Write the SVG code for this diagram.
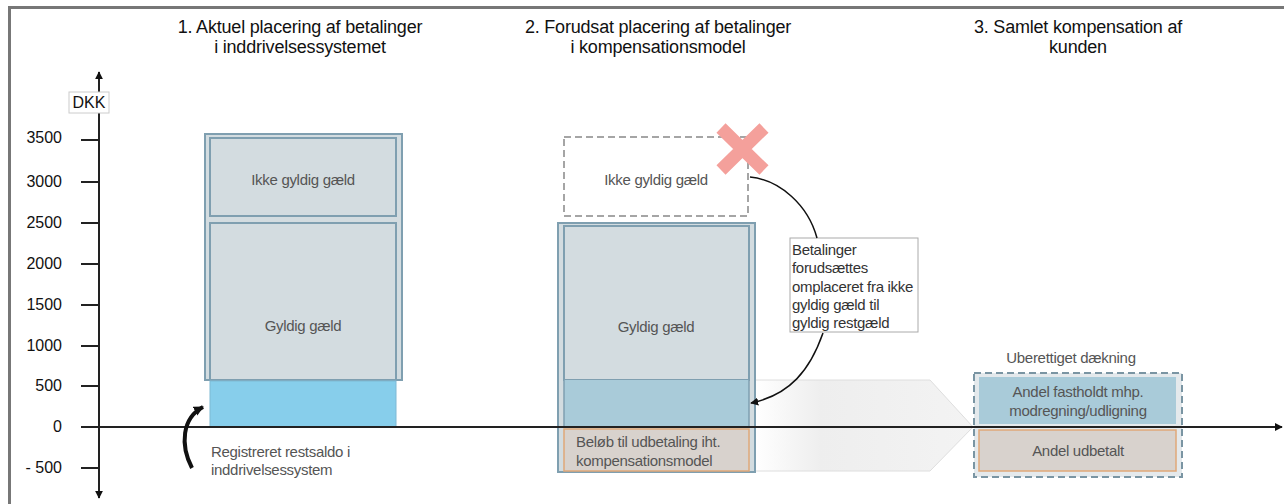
<svg xmlns="http://www.w3.org/2000/svg" width="1284" height="504" viewBox="0 0 1284 504">
<style>
.title{font-family:"Liberation Sans",Arial,sans-serif;font-size:18px;fill:#111;text-anchor:middle;letter-spacing:-0.2px}
.ax{font-family:"Liberation Sans",Arial,sans-serif;font-size:16px;fill:#111;text-anchor:end}
.lbl{font-family:"Liberation Sans",Arial,sans-serif;font-size:15px;fill:#555;letter-spacing:-0.3px}
.c{text-anchor:middle}
.tick{stroke:#222;stroke-width:2}
.gray{fill:#d3dce0;stroke:#7f9fb0;stroke-width:2}
.blue{fill:#a9cbd9}
.tan{fill:#d8d2cd;stroke:#e0a878;stroke-width:1.5}
.conn{fill:none;stroke:#111;stroke-width:1.5}
</style>
<defs>
<marker id="ah" viewBox="0 0 10 10" refX="9" refY="5" markerWidth="8" markerHeight="8" orient="auto" markerUnits="userSpaceOnUse"><path d="M0,0 L10,5 L0,10 z" fill="#111"/></marker>
<marker id="ahb" viewBox="0 0 10 10" refX="9" refY="5" markerWidth="10" markerHeight="10" orient="auto" markerUnits="userSpaceOnUse"><path d="M0,0 L10,5 L0,10 z" fill="#111"/></marker>
<linearGradient id="g" x1="0" y1="0" x2="1" y2="0">
<stop offset="0" stop-color="#ffffff"/>
<stop offset="0.3" stop-color="#eeeeee"/>
<stop offset="1" stop-color="#f3f3f3"/>
</linearGradient>
</defs>
<rect x="0" y="0" width="1284" height="504" fill="#fff"/>
<rect id="frame" x="9.5" y="7.5" width="1290" height="510" fill="none" stroke="#777" stroke-width="3"/>

<g id="titles">
<text class="title" x="300" y="33">1. Aktuel placering af betalinger</text>
<text class="title" x="300" y="53">i inddrivelsessystemet</text>
<text class="title" x="658" y="33">2. Forudsat placering af betalinger</text>
<text class="title" x="658" y="53">i kompensationsmodel</text>
<text class="title" x="1078" y="33">3. Samlet kompensation af</text>
<text class="title" x="1078" y="53">kunden</text>
</g>

<g id="arrow2">
<path d="M755,380 L930,380 L973,427 L930,471 L755,471 Z" fill="url(#g)" stroke="#dedede" stroke-width="1"/>
</g>

<g id="bar1">
<rect class="gray" x="205" y="134" width="197" height="246"/>
<rect class="gray" x="210" y="138" width="186" height="78" stroke-width="1.5"/>
<rect class="gray" x="210" y="223" width="186" height="157" stroke-width="1.5"/>
<rect x="210" y="381" width="186" height="46" fill="#87ceeb" stroke="#7fb9d4" stroke-width="1"/>
<text class="lbl c" x="303" y="185">Ikke gyldig gæld</text>
<text class="lbl c" x="303" y="331">Gyldig gæld</text>
</g>

<g id="bar2-invalid">
<rect x="564" y="137" width="184" height="79" fill="#fff" stroke="#888" stroke-width="1.5" stroke-dasharray="7,4"/>
<text class="lbl c" x="656" y="185">Ikke gyldig gæld</text>
<path d="M721,128 L764,170 M764,128 L721,170" stroke="#f4a09b" stroke-width="13"/>
</g>

<g id="bar2">
<rect class="gray" x="558" y="223" width="197" height="249"/>
<rect class="gray" x="564" y="226" width="185" height="154" stroke-width="1.5"/>
<rect class="blue" x="564" y="380" width="185" height="47"/>
<line x1="749" y1="226" x2="749" y2="427" stroke="#7f9fb0" stroke-width="1.5"/>
<line x1="564" y1="226" x2="564" y2="427" stroke="#7f9fb0" stroke-width="1.5"/>
<rect class="tan" x="564" y="429" width="185" height="42"/>
<text class="lbl c" x="656" y="332">Gyldig gæld</text>
<text class="lbl" x="576" y="447">Beløb til udbetaling iht.</text>
<text class="lbl" x="576" y="466">kompensationsmodel</text>
</g>

<g id="callout">
<rect x="790" y="238" width="128" height="94" fill="#fff" stroke="#aaa" stroke-width="1"/>
<text class="lbl" x="792" y="255" style="fill:#333">Betalinger</text>
<text class="lbl" x="792" y="273" style="fill:#333">forudsættes</text>
<text class="lbl" x="792" y="292" style="fill:#333">omplaceret fra ikke</text>
<text class="lbl" x="792" y="310" style="fill:#333">gyldig gæld til</text>
<text class="lbl" x="792" y="328" style="fill:#333">gyldig restgæld</text>
</g>

<g id="box3">
<text class="lbl c" x="1071" y="363">Uberettiget dækning</text>
<rect x="974" y="373" width="208" height="104" fill="#e4e9ec" stroke="#7a95a3" stroke-width="2" stroke-dasharray="7,4"/>
<rect class="blue" x="979" y="377" width="197" height="47"/>
<rect class="tan" x="979" y="430" width="197" height="41"/>
<text class="lbl c" x="1078" y="397">Andel fastholdt mhp.</text>
<text class="lbl c" x="1078" y="416">modregning/udligning</text>
<text class="lbl c" x="1078" y="456">Andel udbetalt</text>
</g>

<g id="axes">
<line x1="99" y1="496" x2="99" y2="72" stroke="#222" stroke-width="2" marker-end="url(#ah)"/>
<line x1="99" y1="90" x2="99" y2="498" stroke="#222" stroke-width="2" marker-end="url(#ah)"/>
<line x1="81" y1="427" x2="1282" y2="427" stroke="#222" stroke-width="2" marker-end="url(#ah)"/>
<line class="tick" x1="81" y1="140" x2="99" y2="140"/>
<line class="tick" x1="81" y1="182" x2="99" y2="182"/>
<line class="tick" x1="81" y1="223" x2="99" y2="223"/>
<line class="tick" x1="81" y1="264" x2="99" y2="264"/>
<line class="tick" x1="81" y1="305" x2="99" y2="305"/>
<line class="tick" x1="81" y1="346" x2="99" y2="346"/>
<line class="tick" x1="81" y1="386" x2="99" y2="386"/>
<line class="tick" x1="81" y1="468" x2="99" y2="468"/>
<rect x="69" y="92" width="40" height="21" fill="#fff" stroke="#ccc" stroke-width="1"/>
<text x="89" y="108" style="font-family:'Liberation Sans',Arial,sans-serif;font-size:16px;fill:#111;text-anchor:middle">DKK</text>
<text class="ax" x="62" y="143">3500</text>
<text class="ax" x="62" y="187">3000</text>
<text class="ax" x="62" y="228">2500</text>
<text class="ax" x="62" y="269">2000</text>
<text class="ax" x="62" y="310">1500</text>
<text class="ax" x="62" y="351">1000</text>
<text class="ax" x="62" y="391">500</text>
<text class="ax" x="62" y="432">0</text>
<text class="ax" x="62" y="473">- 500</text>
</g>

<g id="annotation1">
<path d="M192,468 C180,445 182,418 203,407" fill="none" stroke="#111" stroke-width="4" marker-end="url(#ahb)"/>
<text class="lbl" x="211" y="457">Registreret restsaldo i</text>
<text class="lbl" x="211" y="475">inddrivelsessystem</text>
</g>

<g id="connectors">
<path class="conn" d="M750,177 C780,180 808,205 817,238"/>
<path class="conn" d="M823,333 C810,370 790,395 751,403" marker-end="url(#ah)"/>
</g>
</svg>
